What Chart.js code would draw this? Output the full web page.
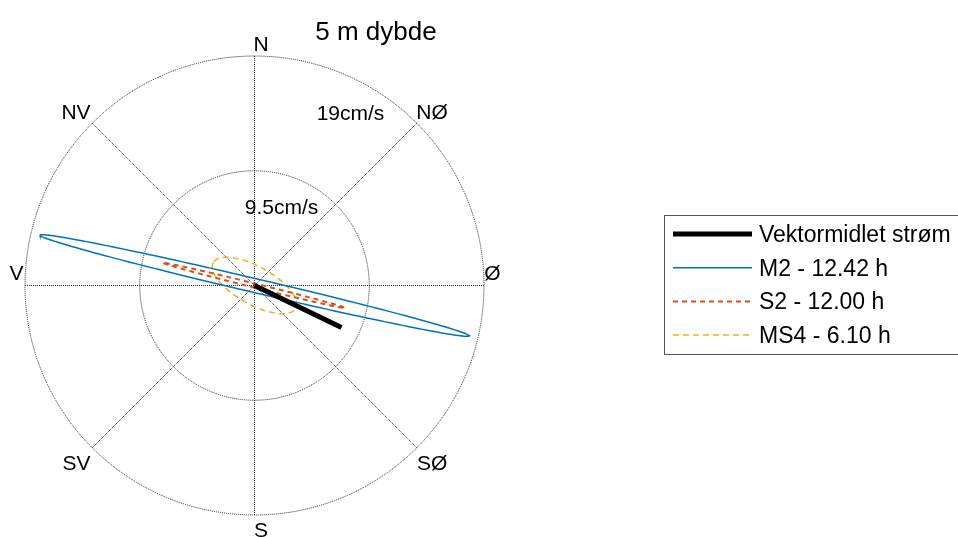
<!DOCTYPE html>
<html>
<head>
<meta charset="utf-8">
<script src="https://cdn.jsdelivr.net/npm/chart.js@4.4.1/dist/chart.umd.min.js"></script>
<style>
  html, body { margin: 0; padding: 0; background: #fff; }
  canvas { display: block; }
</style>
</head>
<body>
<canvas id="compassCanvas" width="958" height="537"></canvas>
<script>
// Current rose at 5 m: mean vector + tidal ellipses (cm/s)
const titleText = "5 m dybde";
const meanLabel = "Vektormidlet strøm";
const meanSpeed = 8.0;        // cm/s
const meanDirection = 115.8;  // degrees clockwise from north

const constituents = ["M2 - 12.42 h", "S2 - 12.00 h", "MS4 - 6.10 h"];
const semiMajor = [18.25, 7.76, 3.9];      // cm/s
const semiMinor = [0.58, 0.17, 1.57];      // cm/s
const inclination = [166.8, 166.1, 151.0]; // degrees counter-clockwise from east

const ringValues = [9.5, 19];
const ringLabels = ["9.5cm/s", "19cm/s"];
const compassLabels = ["N", "NØ", "Ø", "SØ", "S", "SV", "V", "NV"];

const FONT = '"Liberation Sans", Arial, sans-serif';
const maxRing = Math.max(...ringValues);

function ellipsePoints(a, b, incDeg) {
  const t = incDeg * Math.PI / 180;
  const pts = [];
  for (let k = 0; k <= 180; k++) {
    const p = k / 180 * 2 * Math.PI;
    pts.push({
      x: a * Math.cos(p) * Math.cos(t) - b * Math.sin(p) * Math.sin(t),
      y: a * Math.cos(p) * Math.sin(t) + b * Math.sin(p) * Math.cos(t),
    });
  }
  return pts;
}

const dirRad = meanDirection * Math.PI / 180;
const meanVector = [
  { x: 0, y: 0 },
  { x: meanSpeed * Math.sin(dirRad), y: meanSpeed * Math.cos(dirRad) },
];

const ellipseStyles = [
  { color: "#0072BD", width: 1.5, dash: [] },
  { color: "#D95319", width: 2, dash: [5, 4] },
  { color: "#EDB120", width: 1.5, dash: [6, 4] },
];

const datasets = [
  {
    label: meanLabel,
    data: meanVector,
    borderColor: "#000",
    borderWidth: 5,
    borderCapStyle: "butt",
  },
  ...constituents.map((name, i) => ({
    label: name,
    data: ellipsePoints(semiMajor[i], semiMinor[i], inclination[i]),
    borderColor: ellipseStyles[i].color,
    borderWidth: ellipseStyles[i].width,
    borderDash: ellipseStyles[i].dash,
  })),
];

// dotted rings and spokes under the data
const compassGrid = {
  id: "compassGrid",
  beforeDatasetsDraw(chart) {
    const { ctx, scales: { x, y } } = chart;
    const cx = x.getPixelForValue(0);
    const cy = y.getPixelForValue(0);
    ctx.save();
    ctx.strokeStyle = "#222";
    ctx.lineWidth = 1;
    ctx.setLineDash([1, 1]);
    ringValues.forEach(r => {
      const rp = x.getPixelForValue(r) - cx;
      ctx.beginPath();
      ctx.arc(cx, cy, rp, 0, 2 * Math.PI);
      ctx.stroke();
    });
    const R = x.getPixelForValue(maxRing) - cx;
    for (let k = 0; k < 4; k++) {
      const a = k * Math.PI / 4;
      ctx.beginPath();
      ctx.moveTo(cx - R * Math.sin(a), cy + R * Math.cos(a));
      ctx.lineTo(cx + R * Math.sin(a), cy - R * Math.cos(a));
      ctx.stroke();
    }
    ctx.restore();
  },
};

// direction names, ring values, title and legend box
const compassText = {
  id: "compassText",
  afterDraw(chart) {
    const { ctx, scales: { x, y } } = chart;
    ctx.save();
    ctx.fillStyle = "#000";
    ctx.textBaseline = "alphabetic";
    ctx.textAlign = "center";

    ctx.font = "21px " + FONT;
    const dirPos = [
      [0.54, 19.4], [14.7, 13.8], [19.7, 0.46], [14.7, -15.27],
      [0.54, -20.82], [-14.73, -15.27], [-19.7, 0.46], [-14.78, 13.8],
    ];
    compassLabels.forEach((t, i) => {
      ctx.fillText(t, x.getPixelForValue(dirPos[i][0]), y.getPixelForValue(dirPos[i][1]));
    });
    const ringPos = [[2.24, 5.92], [7.95, 13.7]];
    ringLabels.forEach((t, i) => {
      ctx.fillText(t, x.getPixelForValue(ringPos[i][0]), y.getPixelForValue(ringPos[i][1]));
    });

    ctx.font = "26px " + FONT;
    ctx.fillText(titleText, 376, 40);

    // legend
    const bx = 664.5, by = 215.5;
    ctx.strokeStyle = "#555";
    ctx.lineWidth = 1;
    ctx.setLineDash([]);
    ctx.strokeRect(bx, by, 320, 139);
    ctx.font = "23px " + FONT;
    ctx.textAlign = "left";
    chart.data.datasets.forEach((ds, i) => {
      const ly = 234 + i * 33.7;
      ctx.save();
      ctx.strokeStyle = ds.borderColor;
      ctx.lineWidth = ds.borderWidth;
      ctx.setLineDash(ds.borderDash || []);
      ctx.beginPath();
      ctx.moveTo(673, ly);
      ctx.lineTo(752, ly);
      ctx.stroke();
      ctx.restore();
      ctx.fillText(ds.label, 759, ly + 8);
    });
    ctx.restore();
  },
};

new Chart(document.getElementById("compassCanvas"), {
  type: "scatter",
  data: { datasets },
  options: {
    responsive: false,
    animation: false,
    devicePixelRatio: 1,
    showLine: true,
    layout: { padding: { left: 25, top: 56, right: 474, bottom: 22 } },
    elements: { point: { radius: 0 }, line: { tension: 0 } },
    scales: {
      x: { type: "linear", min: -maxRing, max: maxRing, display: false },
      y: { type: "linear", min: -maxRing, max: maxRing, display: false },
    },
    plugins: {
      legend: { display: false },
      tooltip: { enabled: false },
    },
  },
  plugins: [compassGrid, compassText],
});
</script>
</body>
</html>
